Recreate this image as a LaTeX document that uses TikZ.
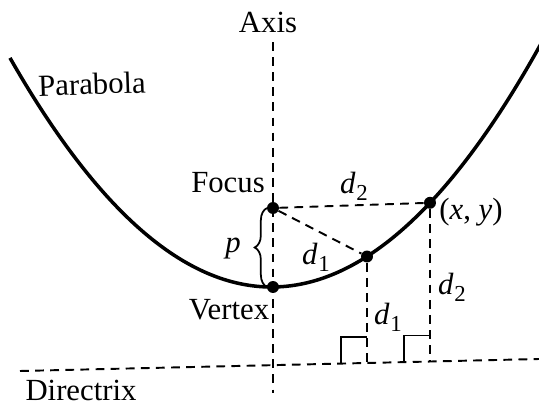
\documentclass[tikz,border=0pt]{standalone}
\usepackage{fontspec}
\setmainfont{Liberation Serif}
\usetikzlibrary{calc,decorations.pathreplacing}
\newcommand{\dvar}[1]{\textit{d}\kern.03em\raisebox{-.5ex}{\fontsize{13}{13}\selectfont #1}}

\begin{document}
\begin{tikzpicture}[x=0.02cm,y=-0.02cm,font=\fontsize{17.5}{20}\selectfont,
 dline/.style={line width=1.1pt,dash pattern=on 5pt off 3.6pt},
 curve/.style={line width=2pt},
 rang/.style={line width=1.1pt},
 pt/.style={circle,fill=black,inner sep=0,minimum size=6.8pt},
 lbl/.style={inner sep=1pt}]
\useasboundingbox (0,0) rectangle (539,406);
\coordinate (At) at (273,42);
\coordinate (Ab) at (273,393);
\coordinate (Dl) at (20,371);
\coordinate (Dr) at (539,359);
\coordinate (D1) at (367,363);
\coordinate (D2) at (430,361.5);
\node[pt] (F) at (273,208) {};
\node[pt] (V) at (273,287) {};
\node[pt] (P1) at (367,256.5) {};
\node[pt] (P2) at (430,202.8) {};
\draw[dline] (At) -- (Ab);
\draw[dline] (Dl) -- (Dr);
\draw[dline] (F) -- (P2);
\draw[dline] (F) -- (P1);
\draw[dline] (P1) -- (D1);
\draw[dline] (P2) -- (D2);
\foreach \f in {D1,D2}
 \draw[rang] ($(\f)+(-26,0.5)$) |- ($(\f)+(0,-26)$);
\draw[curve] plot[domain=-2.63:2.68,samples=90,smooth] ({273+100*\x},{287-33.5*\x*\x-\x});
\draw[line width=1pt,decorate,decoration={brace,amplitude=7pt}] (267,287) -- (267,208);
\node[lbl] (axl) at (268,22) {Axis};
\node[lbl,rotate=2] (parl) at (92,84) {Parabola};
\node[lbl] (focl) at (228,183) {Focus};
\node[lbl] (vtxl) at (229,310) {Vertex};
\node[lbl] (dirl) at (81,390) {Directrix};
\node[lbl] (pl) at (233,249) {\textit{p}};
\node[lbl] (d2t) at (354,186) {\dvar{2}};
\node[lbl] (d1m) at (316,257) {\dvar{1}};
\node[lbl] (d1b) at (388,317) {\dvar{1}};
\node[lbl] (d2r) at (452,287) {\dvar{2}};
\node[lbl] (xyl) at (471,212) {(\textit{x}, \textit{y})};
\end{tikzpicture}
\end{document}
